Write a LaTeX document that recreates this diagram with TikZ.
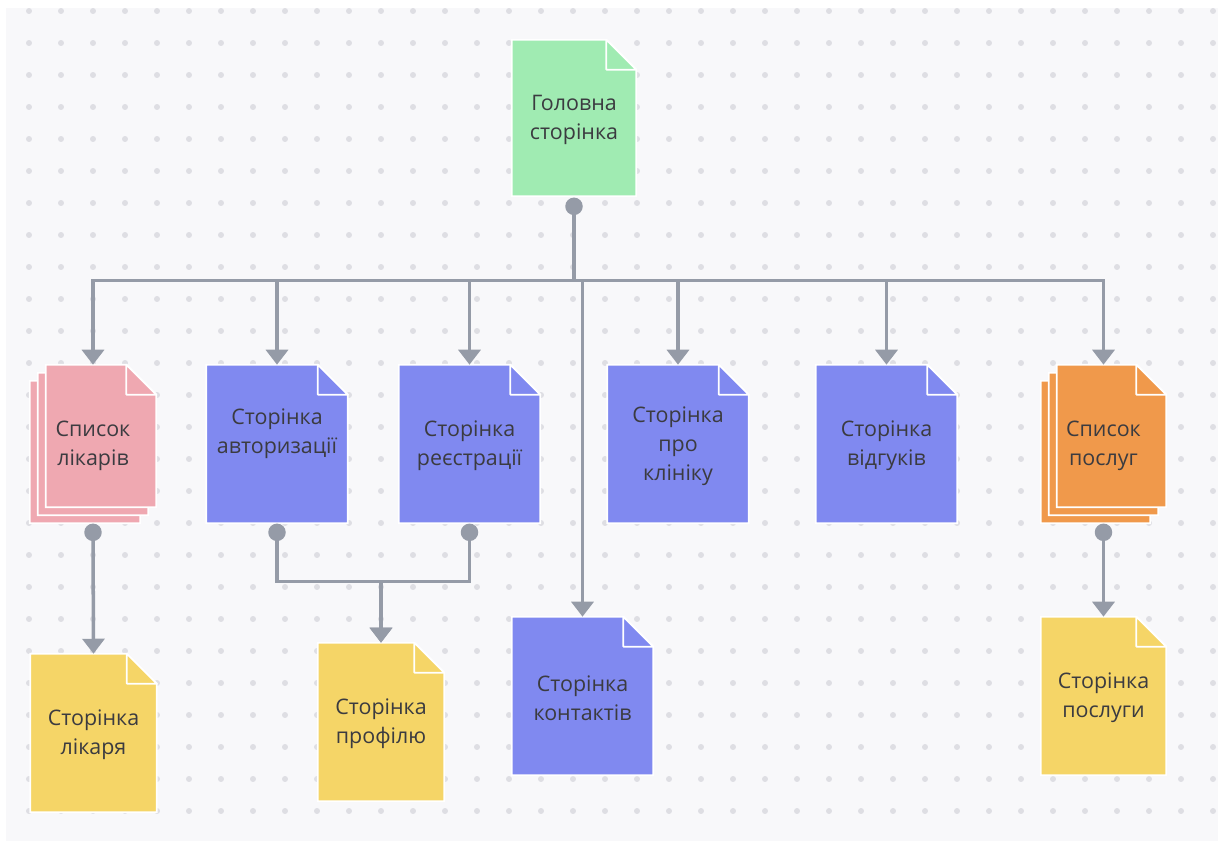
\documentclass[tikz,border=0pt]{standalone}
\usepackage{fontspec}
\setmainfont{Open Sans}
\usetikzlibrary{arrows.meta,calc,backgrounds}
\definecolor{paper}{HTML}{F8F8FA}
\definecolor{griddot}{HTML}{DEDEE3}
\definecolor{pgreen}{HTML}{A0EBB2}
\definecolor{ppink}{HTML}{EFA8B1}
\definecolor{pblue}{HTML}{8089F0}
\definecolor{porange}{HTML}{F0994B}
\definecolor{pyellow}{HTML}{F5D567}
\definecolor{conn}{HTML}{959BA7}
\definecolor{ink}{HTML}{3B3B40}

% page with folded corner, from corner #1 to corner #2
\newcommand{\pageshape}[3]{%
  \coordinate (pg-ne) at (#2|-#1);
  \coordinate (pg-sw) at (#1|-#2);
  \filldraw[#3, draw=white, line width=1pt] (#1) -- ($(pg-ne)+(-30,0)$) -- ($(pg-ne)+(0,30)$) -- (#2) -- (pg-sw) -- cycle;
  \filldraw[#3, draw=white, line width=1pt, line join=round] ($(pg-ne)+(-30,0)$) -- ($(pg-ne)+(-30,30)$) -- ($(pg-ne)+(0,30)$) -- cycle;
}

\begin{document}
\begin{tikzpicture}[x=0.02cm, y=-0.02cm,
    page/.style={rectangle, inner sep=0pt, minimum width=2.82cm,
        minimum height=3.16cm, align=center, text=ink,
        font=\fontsize{12.2}{16.5}\selectfont},
    narrow/.style={page, minimum width=2.52cm},
    joint/.style={circle, fill=conn, inner sep=0pt, minimum size=0.35cm},
    link/.style={draw=conn, line width=2pt,
        -{Triangle[width=12.5pt, length=8.5pt]}}
]
    \useasboundingbox (0,0) rectangle (1224,845);

    % canvas with dot grid
    \begin{scope}[on background layer]
        \fill[paper] (6,8) rectangle (1218,841);
        \foreach \i in {0,...,37}
            \foreach \j in {0,...,25}
                \fill[griddot] (29+32*\i, 11+32*\j) circle (1.7pt);
    \end{scope}

    % top
    \node[narrow, minimum height=3.12cm, minimum width=2.48cm] (main) at (574,120) {Головна\\сторінка};

    % second row
    \node[narrow] (docs) at (93,446) {Список\\лікарів};
    \node[page] (auth) at (277,446) {Сторінка\\авторизації\\\mbox{}};
    \node[page] (reg) at (469.5,446) {Сторінка\\реєстрації};
    \node[page] (clinic) at (678,446) {Сторінка\\про\\клініку};
    \node[page] (reviews) at (886.5,446) {Сторінка\\відгуків};
    \node[narrow, minimum width=2.5cm] (servs) at (1103.5,446) {Список\\послуг};

    % third row
    \node[narrow] (doctor) at (93.5,735) {Сторінка\\лікаря};
    \node[narrow] (profile) at (381,724) {Сторінка\\профілю};
    \node[page] (contacts) at (582.5,698) {Сторінка\\контактів};
    \node[narrow, minimum width=2.5cm] (service) at (1103.5,698) {Сторінка\\послуги};

    % page shapes
    \begin{scope}[on background layer]
        \foreach \n/\c in {main/pgreen, auth/pblue, reg/pblue, clinic/pblue,
                reviews/pblue, doctor/pyellow, profile/pyellow,
                contacts/pblue, service/pyellow} {
            \coordinate (nw) at ($(\n.north west)+(0,-2)$);
            \coordinate (se) at ($(\n.south east)+(0,-2)$);
            \pageshape{nw}{se}{\c}
        }
        \foreach \n/\c in {docs/ppink, servs/porange}
            \foreach \k in {0,1,2} {
                \coordinate (nw) at ($(\n.north west)+(8*\k,14-8*\k)$);
                \coordinate (se) at ($(\n.south east)+(8*\k-16,-2-8*\k)$);
                \pageshape{nw}{se}{\c}
            }
    \end{scope}

    % joints
    \node[joint] (mdot) at ($(main.south)+(0,8)$) {};
    \node[joint] (ddot) at ($(docs.south)+(0,7)$) {};
    \node[joint] (adot) at ($(auth.south)+(0,7)$) {};
    \node[joint] (rdot) at ($(reg.south)+(0,7)$) {};
    \node[joint] (sdot) at ($(servs.south)+(0,7)$) {};

    % links from the main page
    \foreach \t in {docs, auth, reg, contacts, clinic, reviews, servs}
        \draw[link] (mdot.center) -- ++(0,74) -| ([yshift=2*0.567pt]\t.north);

    % links to the third row
    \draw[link] (ddot.center) -- ([yshift=2*0.567pt]doctor.north);
    \draw[link] (adot.center) -- ++(0,49) -| ([yshift=2*0.567pt]profile.north);
    \draw[link] (rdot.center) -- ++(0,49) -| ([yshift=2*0.567pt]profile.north);
    \draw[link] (sdot.center) -- ([yshift=2*0.567pt]service.north);
\end{tikzpicture}
\end{document}
